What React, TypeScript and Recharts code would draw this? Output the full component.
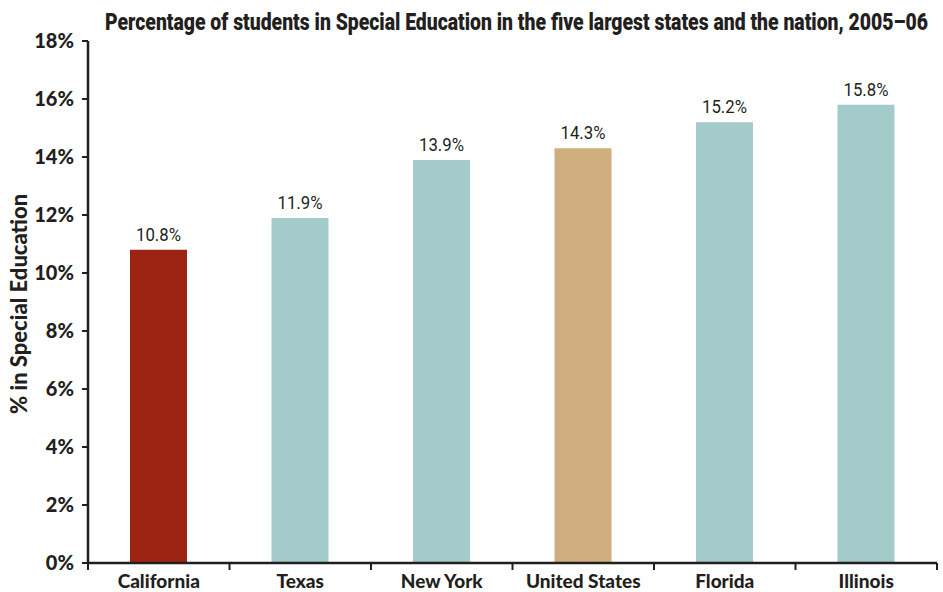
import { BarChart, Bar, XAxis, YAxis, Cell, LabelList } from "recharts";

const STATES = ["California", "Texas", "New York", "United States", "Florida", "Illinois"];
const PCT_SPECIAL_ED = [10.8, 11.9, 13.9, 14.3, 15.2, 15.8];
const BAR_COLORS = ["#9d2412", "#a3cbca", "#a3cbca", "#d0ae7e", "#a3cbca", "#a3cbca"];
const Y_TICKS = [0, 2, 4, 6, 8, 10, 12, 14, 16, 18];
const TITLE = "Percentage of students in Special Education in the five largest states and the nation, 2005–06";

const data = STATES.map((name, i) => ({ name, value: PCT_SPECIAL_ED[i] }));

const W = 943;
const H = 592;
const M = { top: 41, right: 6, bottom: 0, left: 0 };
const Y_AXIS_W = 88;
const X_AXIS_H = 29;
const INK = "#231f20";
const LABEL_FONT = "Lato, 'Noto Sans', sans-serif";

// category boundary ticks instead of centred ones
const plotW = W - M.left - M.right - Y_AXIS_W;
const band = plotW / STATES.length;

function StateTick(props: any) {
  const { x, y, payload, index } = props;
  const left = x - band / 2;
  const right = x + band / 2;
  return (
    <g>
      <line x1={left} x2={left} y1={y - 8} y2={y - 1} stroke={INK} strokeWidth={2} />
      {index === STATES.length - 1 && (
        <line x1={right} x2={right} y1={y - 8} y2={y - 1} stroke={INK} strokeWidth={2} />
      )}
      <text
        x={x}
        y={y + 17}
        textAnchor="middle"
        fontFamily={LABEL_FONT}
        fontWeight={900}
        fontSize={19}
        fill={INK}
      >
        {payload.value}
      </text>
    </g>
  );
}

// narrow value labels above bars
function ValueLabel(props: any) {
  const { x, y, width, value } = props;
  const txt = `${Number(value).toFixed(1)}%`;
  return (
    <text
      x={x + width / 2}
      y={y - 9}
      textAnchor="middle"
      fontFamily="Roboto, sans-serif"
      fontWeight={400}
      fontSize={19}
      fill={INK}
      textLength={45}
      lengthAdjust="spacingAndGlyphs"
    >
      {txt}
    </text>
  );
}

export default function App() {
  return (
    <div style={{ width: W, height: H, background: "#fff", position: "relative" }}>
      <style>{`body{margin:0}`}</style>
      <svg width={W} height={44} style={{ position: "absolute", left: 0, top: 0 }}>
        <g transform="scale(1,1.15)">
          <text
            x={105}
            y={26}
            fontFamily="Roboto, sans-serif"
            fontWeight={900}
            fontSize={20}
            fill={INK}
            textLength={823}
            lengthAdjust="spacingAndGlyphs"
          >
            {TITLE}
          </text>
        </g>
      </svg>
      <BarChart width={W} height={H} data={data} margin={M}>
        <XAxis
          dataKey="name"
          height={X_AXIS_H}
          axisLine={{ stroke: INK, strokeWidth: 2.5 }}
          tickLine={false}
          interval={0}
          tick={<StateTick />}
        />
        <YAxis
          width={Y_AXIS_W}
          domain={[0, 18]}
          ticks={Y_TICKS}
          interval={0}
          axisLine={{ stroke: INK, strokeWidth: 2.5 }}
          tickLine={{ stroke: INK, strokeWidth: 2 }}
          tickSize={6}
          tickMargin={8}
          tickFormatter={(v: number) => `${v}%`}
          tick={{ fontFamily: LABEL_FONT, fontWeight: 900, fontSize: 20, fill: INK }}
          label={{
            value: "% in Special Education",
            angle: -90,
            position: "insideLeft",
            dx: 14,
            dy: 112,
            style: { fontFamily: LABEL_FONT, fontWeight: 900, fontSize: 22, fill: INK },
          }}
        />
        <Bar dataKey="value" barSize={57} isAnimationActive={false}>
          {data.map((d, i) => (
            <Cell key={d.name} fill={BAR_COLORS[i]} />
          ))}
          <LabelList dataKey="value" content={<ValueLabel />} />
        </Bar>
      </BarChart>
    </div>
  );
}
